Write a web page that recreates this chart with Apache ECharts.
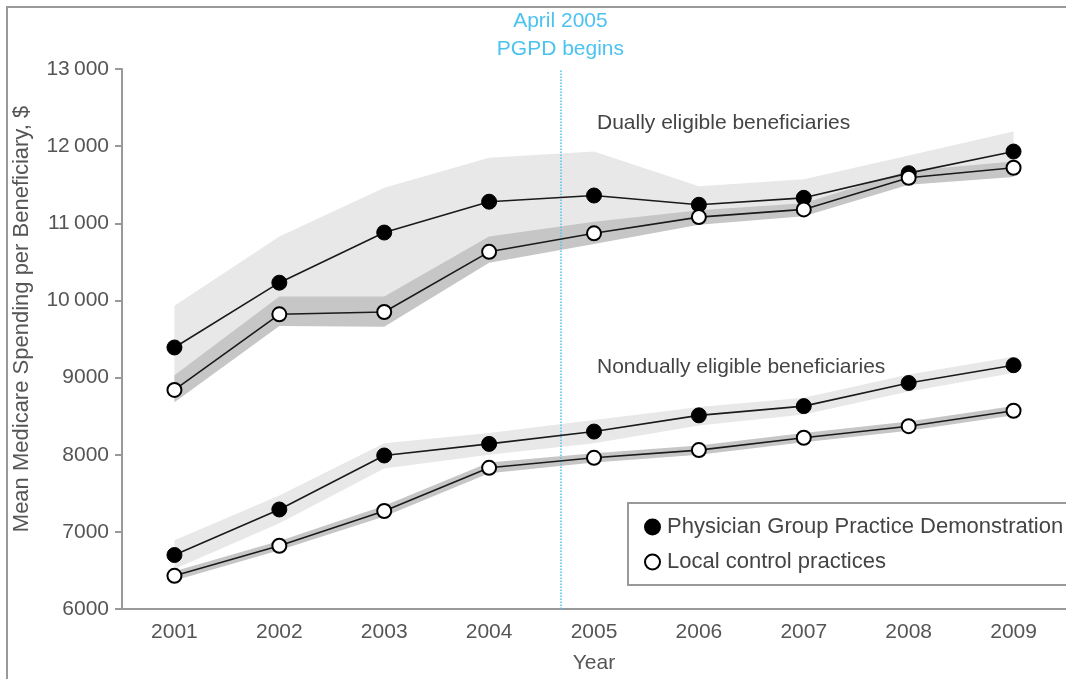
<!DOCTYPE html>
<html>
<head>
<meta charset="utf-8">
<script src="https://cdn.jsdelivr.net/npm/echarts@6/dist/echarts.min.js"></script>
<style>
  html, body { margin: 0; padding: 0; background: #fff; }
  #chart { width: 1066px; height: 679px; }
</style>
</head>
<body>
<div id="chart"></div>
<script>
// years on the x axis
var years = ['2001', '2002', '2003', '2004', '2005', '2006', '2007', '2008', '2009'];

// dually eligible beneficiaries
var dualPgpd = [9390, 10230, 10880, 11280, 11360, 11240, 11330, 11650, 11930];
var dualPgpdLow = [8840, 9820, 9850, 10630, 10870, 11080, 11180, 11590, 11720];
var dualPgpdHigh = [9930, 10830, 11460, 11850, 11930, 11480, 11570, 11880, 12190];
var dualCtrl = [8840, 9820, 9850, 10630, 10870, 11080, 11180, 11590, 11720];
var dualCtrlLow = [8680, 9670, 9660, 10490, 10730, 10980, 11090, 11500, 11600];
var dualCtrlHigh = [9030, 10050, 10050, 10830, 11020, 11170, 11260, 11680, 11800];

// nondually eligible beneficiaries
var nonPgpd = [6700, 7290, 7990, 8140, 8300, 8510, 8630, 8930, 9160];
var nonPgpdLow = [6520, 7110, 7820, 8000, 8150, 8380, 8520, 8820, 9060];
var nonPgpdHigh = [6890, 7470, 8150, 8280, 8450, 8620, 8740, 9040, 9270];
var nonCtrl = [6430, 6820, 7270, 7830, 7960, 8060, 8220, 8370, 8570];
var nonCtrlLow = [6370, 6760, 7200, 7760, 7900, 8000, 8160, 8310, 8510];
var nonCtrlHigh = [6490, 6880, 7340, 7900, 8020, 8120, 8280, 8430, 8630];

// April 2005, as a fractional year position on the axis
var pgpdStart = 2004.68;

var PGPD = 'Physician Group Practice Demonstration';
var CTRL = 'Local control practices';
var FONT = 'Liberation Sans, Arial, sans-serif';

function band (id, low, high, color, z) {
  var diff = high.map(function (h, i) { return h - low[i]; });
  return [
    {
      type: 'line', stack: id, data: low, symbol: 'none', z: z,
      lineStyle: { opacity: 0 }, silent: true
    },
    {
      type: 'line', stack: id, data: diff, symbol: 'none', z: z,
      lineStyle: { opacity: 0 }, areaStyle: { color: color, opacity: 1 }, silent: true
    }
  ];
}

function pgpdLine (data) {
  return {
    name: PGPD, type: 'line', data: data, z: 10,
    symbol: 'circle', symbolSize: 15,
    lineStyle: { color: '#1a1a1a', width: 1.6 },
    itemStyle: { color: '#000', borderColor: '#000', borderWidth: 1 }
  };
}

function ctrlLine (data) {
  return {
    name: CTRL, type: 'line', data: data, z: 11,
    symbol: 'circle', symbolSize: 14,
    lineStyle: { color: '#1a1a1a', width: 1.6 },
    itemStyle: { color: '#fff', borderColor: '#000', borderWidth: 2 }
  };
}

var chart = echarts.init(document.getElementById('chart'));

var series = []
  .concat(band('dualP', dualPgpdLow, dualPgpdHigh, '#e8e8e8', 1))
  .concat(band('nonP', nonPgpdLow, nonPgpdHigh, '#e8e8e8', 1))
  .concat(band('dualC', dualCtrlLow, dualCtrlHigh, '#c6c6c6', 2))
  .concat(band('nonC', nonCtrlLow, nonCtrlHigh, '#c6c6c6', 2))
  .concat([pgpdLine(dualPgpd), ctrlLine(dualCtrl), pgpdLine(nonPgpd), ctrlLine(nonCtrl)]);

// start of the demonstration, drawn on a hidden value axis
series.push({
  type: 'line', xAxisIndex: 1, data: [], z: 5,
  markLine: {
    silent: true, symbol: 'none',
    lineStyle: { color: '#4cc3ef', type: 'dotted', width: 1.5 },
    label: {
      position: 'end', distance: 6,
      formatter: 'April 2005\nPGPD begins',
      color: '#4cc3ef', fontFamily: FONT, fontSize: 21, lineHeight: 28
    },
    data: [[{ coord: [pgpdStart, 6000] }, { coord: [pgpdStart, 13000] }]]
  }
});

var option = {
  animation: false,
  textStyle: { fontFamily: FONT },
  grid: { left: 122, right: -7, top: 69, bottom: 68 },
  legend: {
    data: [PGPD, CTRL],
    orient: 'vertical',
    left: 628, top: 503,
    icon: 'circle',
    itemWidth: 15, itemHeight: 15, itemGap: 13,
    padding: [13, 14, 12, 16],
    borderColor: '#999', borderWidth: 2,
    textStyle: { fontSize: 22, color: '#444', padding: [0, 0, 0, 2] }
  },
  xAxis: [
    {
      type: 'category', data: years,
      name: 'Year', nameLocation: 'middle', nameGap: 44,
      nameTextStyle: { fontSize: 21, color: '#555' },
      axisLine: { lineStyle: { color: '#999', width: 2 } },
      axisTick: { length: 7, lineStyle: { color: '#999', width: 2 } },
      axisLabel: { fontSize: 21, color: '#555', margin: 13 }
    },
    {
      type: 'value', min: 2000.5, max: 2009.5, show: false
    }
  ],
  yAxis: {
    type: 'value', min: 6000, max: 13000, interval: 1000,
    splitLine: { show: false },
    axisLine: { show: true, lineStyle: { color: '#999', width: 2 } },
    axisTick: { show: true, length: 7, lineStyle: { color: '#999', width: 2 } },
    axisLabel: {
      fontSize: 21, color: '#555', margin: 13,
      formatter: function (v) {
        return v >= 10000 ? Math.floor(v / 1000) + '\u2009000' : String(v);
      }
    }
  },
  graphic: [
    {
      type: 'rect', z: -1, silent: true,
      shape: { x: 7, y: 7, width: 1100, height: 700 },
      style: { fill: 'none', stroke: '#999', lineWidth: 2 }
    },
    {
      type: 'text', x: 22, y: 319, rotation: Math.PI / 2,
      style: {
        text: 'Mean Medicare Spending per Beneficiary, $', fontSize: 22, fill: '#555',
        fontFamily: FONT, align: 'center', verticalAlign: 'middle'
      }
    },
    {
      type: 'text', left: 597, top: 113,
      style: { text: 'Dually eligible beneficiaries', fontSize: 21, fill: '#444', fontFamily: FONT }
    },
    {
      type: 'text', left: 597, top: 357,
      style: { text: 'Nondually eligible beneficiaries', fontSize: 21, fill: '#444', fontFamily: FONT }
    }
  ],
  series: series
};

chart.setOption(option);
</script>
</body>
</html>
